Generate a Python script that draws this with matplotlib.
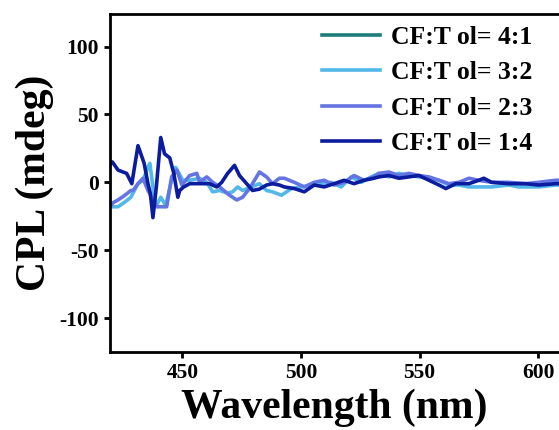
import matplotlib
matplotlib.use('Agg')
import matplotlib.pyplot as plt

# CPL spectra (wavelength in nm, CPL in mdeg)
wl_32 = [419.9, 422.9, 425.8, 428.3, 431.3, 433.4, 435.5, 436.3, 437.6, 438.8,
         440.9, 443.0, 445.1, 447.2, 450.2, 453.1, 457.3, 460.3, 462.8, 465.7,
         469.1, 471.2, 473.3, 475.4, 479.2, 482.5, 485.5, 488.0, 491.8, 496.0,
         500.2, 504.4, 508.6, 512.8, 517.0, 521.2, 525.4, 529.6, 532.9, 537.1,
         541.3, 545.5, 549.8, 554.0, 558.2, 562.4, 566.6, 570.8, 580.4, 587.6,
         591.8, 600.2, 607.3, 612.0]
cpl_32 = [-18, -18, -14.5, -11, -1, 1.5, 11, 14, -3.4, -18,
          -11, -17, -1, 11, 1.5, 1.5, 3, 0, -7, -6,
          -8, -7, -3.4, -6, -3.4, -1, -6, -7, -9.5, -4.6,
          -3.4, -2, -1, 0, -3.4, 4, 0, 4, 6.6, 4,
          6.6, 5, 4, 3, 1.5, -2, -2, -3.4, -3.4, -2,
          -3.4, -3.4, -2, -2]

wl_23 = [419.9, 420.8, 422.9, 425.8, 428.3, 429.2, 431.3, 433.4, 435.5, 439.2,
         443.4, 445.5, 447.7, 449.8, 453.1, 456.1, 457.3, 460.3, 462.8, 464.5,
         465.7, 469.9, 472.9, 475.4, 478.3, 481.3, 482.5, 485.5, 488.0, 490.9,
         493.0, 497.2, 501.4, 505.6, 509.8, 514.0, 518.2, 522.4, 526.6, 530.8,
         532.9, 537.1, 541.3, 545.5, 549.8, 554.0, 558.2, 562.4, 566.6, 570.8,
         575.0, 580.4, 587.6, 594.7, 600.2, 607.3, 612.0]
cpl_23 = [-17, -15, -13, -9.5, -6, -6, -1, 3, -6, -18,
          -18, 4, 9, -2, 5, 6.6, 0, 4, 0, -2,
          -3.4, -9.5, -13, -11, -4.6, 4, 7.6, 4, -1, 3,
          3, 0, -3.4, 0, 1.5, -2, 0, 5, 1.5, 4,
          6.6, 7.6, 5, 6.6, 5, 4, 1.5, -1, 0, 3,
          1.5, 0, 0, -1, 0, 1.5, 1.5]

wl_14 = [419.5, 420.5, 422.9, 426.5, 428.7, 431.3, 433.9, 435.5, 436.5, 437.6,
         439.0, 440.9, 442.5, 444.7, 446.4, 448.1, 448.9, 450.5, 453.1, 457.3,
         461.5, 464.5, 466.6, 469.1, 472.0, 474.1, 477.1, 479.6, 482.5, 485.5,
         488.0, 490.9, 493.0, 497.2, 501.4, 505.6, 509.8, 514.0, 518.2, 522.4,
         526.6, 530.8, 532.9, 537.1, 541.3, 545.5, 549.8, 554.0, 558.2, 561.1,
         565.3, 570.8, 575.0, 577.1, 580.4, 587.6, 594.7, 600.2, 607.3, 612.0]
cpl_14 = [13, 15, 9, 6.6, -1, 27, 14, -1, -8, -26,
          -4, 33, 21, 18, 6.6, -11, -6, -3.5, -1, -1,
          -1, -3.4, 0, 6.6, 12.5, 5, -1, -6, -5, -2,
          -1, -2, -3.4, -4.6, -7, -2, -3.4, -1, 1.5, -1,
          1.5, 3, 4, 5, 3, 4, 5, 1.5, -2, -4.6,
          -1, -1, 1.5, 3, 0, -1, -1, -2, -1, -1]

labels = ['CF:T ol= 4:1', 'CF:T ol= 3:2', 'CF:T ol= 2:3', 'CF:T ol= 1:4']
colors = ['#1c7d7b', '#52b8ea', '#6474e2', '#0c1c9e']

plt.rcParams['font.family'] = 'Liberation Serif'
plt.rcParams['font.weight'] = 'bold'
plt.rcParams['axes.unicode_minus'] = False

fig = plt.figure(figsize=(5.59, 4.3), dpi=100)
ax = fig.add_axes([110 / 559, 1 - 352 / 430, 1 - 110 / 559, (352 - 14) / 430])

lw = 2.6
ax.plot([], [], color=colors[0], lw=lw, label=labels[0])  # 4:1 not visible in the plot
ax.plot(wl_32, cpl_32, color=colors[1], lw=lw, label=labels[1])
ax.plot(wl_23, cpl_23, color=colors[2], lw=lw, label=labels[2])
ax.plot(wl_14, cpl_14, color=colors[3], lw=lw, label=labels[3])

ax.set_xlim(419.5, 608.8)
ax.set_ylim(-125, 124)
ax.set_xticks([450, 500, 550, 600])
ax.set_yticks([100, 50, 0, -50, -100])

for s in ['left', 'top', 'bottom']:
    ax.spines[s].set_linewidth(2)
ax.spines['right'].set_visible(False)
ax.tick_params(direction='out', length=4, width=2, labelsize=15.5, pad=4)
for lab in ax.get_xticklabels() + ax.get_yticklabels():
    lab.set_fontweight('bold')

ax.set_xlabel('Wavelength (nm)', fontsize=30, fontweight='bold', labelpad=4)
ax.set_ylabel('CPL (mdeg)', fontsize=30, fontweight='bold', labelpad=4)

ax.legend(loc='upper left', bbox_to_anchor=(322 / 559, 1 - 26 / 430),
          bbox_transform=fig.transFigure, frameon=False, borderpad=0,
          borderaxespad=0, handlelength=2.25, handletextpad=0.45,
          labelspacing=0.48, prop={'size': 18.5, 'weight': 'bold'})

fig.savefig('out.png', dpi=100)
